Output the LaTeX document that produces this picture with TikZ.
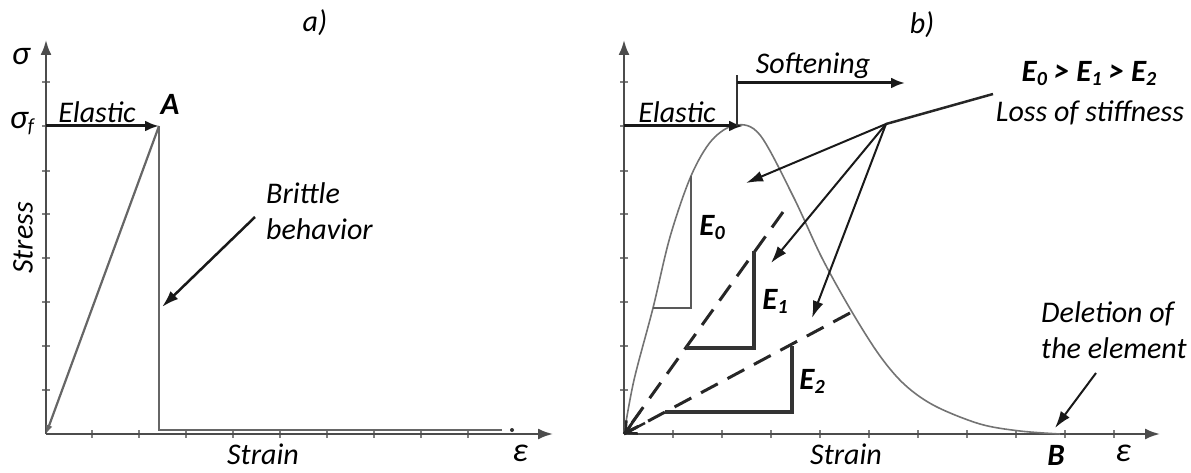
\documentclass[tikz,border=0pt]{standalone}
\usepackage{fontspec}
\setmainfont{Carlito}
\usetikzlibrary{arrows.meta}
\newcommand\subd[1]{\raisebox{-4pt}{\fontsize{20}{20}\selectfont #1}}
\begin{document}
\begin{tikzpicture}[x=1pt,y=-1pt,
  lab/.style={font=\fontsize{30}{36}\selectfont\itshape, inner sep=0pt, text=black},
  blab/.style={font=\fontsize{31}{36}\selectfont\bfseries\itshape, inner sep=0pt},
  greek/.style={font=\fontsize{34}{36}\selectfont\itshape, inner sep=0pt, text=black},
  axisline/.style={line width=2.2pt, draw=black!70, -{Latex[length=15pt,width=11pt]}},
  tickline/.style={line width=1.3pt, draw=black!50},
  greyline/.style={line width=2.2pt, draw=black!60},
  curveline/.style={line width=1.6pt, draw=black!55},
  bigarrow/.style={line width=3pt, draw=black!90, -{Latex[length=14pt,width=11pt]}},
  ptr/.style={line width=2.5pt, draw=black!90, -{Latex[length=17pt,width=11pt]}},
  dashline/.style={line width=3pt, draw=black!85, dash pattern=on 19pt off 11pt},
  stepline/.style={line width=3.2pt, draw=black!80},
]
\useasboundingbox (0,0) rectangle (1191,473);

%%%%%%%%%%%%%%%% panel a
\coordinate (O1) at (46,434);
\coordinate (Y1) at (46,40);
\coordinate (X1) at (553,434);
\foreach \y in {82,126,171,214,258,302,346,390} \draw[tickline] (42,\y) -- (50,\y);
\foreach \x in {92,139,186,233,280,327,374,421,468} \draw[tickline] (\x,430) -- (\x,438);
\draw[axisline] (O1) -- (Y1);
\draw[axisline] (O1) -- (X1);

\coordinate (S1) at (46,126);
\coordinate (A) at (159,126);
\coordinate (D1) at (159,430);
\coordinate (D2) at (502,430);
\draw[greyline, -{Latex[length=9pt,width=7pt]}] (A) -- (O1);
\draw[greyline] (A) -- (D1) -- (D2);
\fill[black!80] (512,430) circle (2pt);
\draw[bigarrow] (S1) -- (A);

\node[lab] (ta) at (315,23) {a)};
\node[greek] (sig) at (21,57) {σ};
\node[greek] (sigf) at (22,124) {σ\subd{f}};
\node[lab] (el1) at (97,112) {Elastic};
\node[blab] (lA) at (170,104) {A};
\node[lab, align=left, anchor=west] (brit) at (266,211) {Brittle\\behavior};
\coordinate (b1) at (255,217);
\coordinate (b2) at (162,307);
\draw[ptr] (b1) -- (b2);
\node[lab, rotate=90] (stress) at (23,238) {Stress};
\node[lab] (strain1) at (263,454) {Strain};
\node[greek] (eps1) at (520,453) {ε};

%%%%%%%%%%%%%%%% panel b
\coordinate (O2) at (624,434);
\coordinate (Y2) at (624,40);
\coordinate (X2) at (1160,434);
\foreach \y in {82,126,171,214,258,302,346,390} \draw[tickline] (620,\y) -- (628,\y);
\foreach \x in {673,722,771,820,869,918,967,1016,1065,1114} \draw[tickline] (\x,430) -- (\x,438);
\draw[axisline] (O2) -- (Y2);
\draw[axisline] (O2) -- (X2);

\draw[curveline] plot[smooth, tension=0.55] coordinates {(624,434) (634,380) (653,308) (670,237) (691,176) (712,140) (736,125) (760,135) (793,196) (822,258) (852,312) (880,356) (905,385) (935,406) (980,424) (1020,431) (1060,434)};

\coordinate (S2) at (624,126);
\coordinate (P) at (743,126);
\draw[bigarrow] (S2) -- (P);
\coordinate (V1) at (737,126);
\coordinate (V2) at (737,75);
\coordinate (F1) at (737,83);
\coordinate (F2) at (905,83);
\draw[line width=2pt, draw=black!80] (V1) -- (V2);
\draw[bigarrow] (F1) -- (F2);
\node[lab] (el2) at (677,112) {Elastic};
\node[lab] (soft) at (813,66) {Softening};

% E0 triangle
\draw[greyline, draw=black!65] (653,308) -- (691,308) -- (691,176);
% secants
\coordinate (T1) at (783,212);
\coordinate (T2) at (850,313);
\draw[dashline] (T1) -- (O2);
\draw[dashline] (T2) -- (O2);
\draw[line width=2.5pt, draw=black!85, -{Straight Barb[length=10pt,width=12pt]}] (640,412) -- (O2);
\draw[line width=2.5pt, draw=black!85, -{Straight Barb[length=10pt,width=12pt]}] (645,423) -- (O2);
% steps
\draw[stepline] (686,348) -- (754,348) -- (754,251);
\draw[stepline] (665,412) -- (792,412) -- (792,346);
\node[blab] (E0) at (712,228) {E\subd{0}};
\node[blab] (E1) at (775,301) {E\subd{1}};
\node[blab] (E2) at (812,381) {E\subd{2}};

% loss of stiffness pointers
\coordinate (L0) at (993,94);
\coordinate (C) at (886,124);
\coordinate (a1) at (746,183);
\coordinate (a2) at (771,263);
\coordinate (a3) at (812,318);
\draw[line width=2.5pt, draw=black!85] (L0) -- (C);
\draw[ptr, line width=2pt] (C) -- (a1);
\draw[ptr, line width=2pt] (C) -- (a2);
\draw[ptr, line width=2pt] (C) -- (a3);
\node[blab] (ineq) at (1089,74) {E\subd{0} > E\subd{1} > E\subd{2}};
\node[lab] (loss) at (1090,113) {Loss of stiffness};

\node[lab, align=left, anchor=west] (del) at (1041,330) {Deletion of\\the element};
\coordinate (d1) at (1096,373);
\coordinate (d2) at (1055,428);
\draw[ptr, line width=2pt] (d1) -- (d2);
\node[blab] (lB) at (1056,455) {B};
\node[greek] (eps2) at (1123,453) {ε};
\node[lab] (strain2) at (846,454) {Strain};
\node[lab] (tb) at (922,25) {b)};
\end{tikzpicture}
\end{document}
